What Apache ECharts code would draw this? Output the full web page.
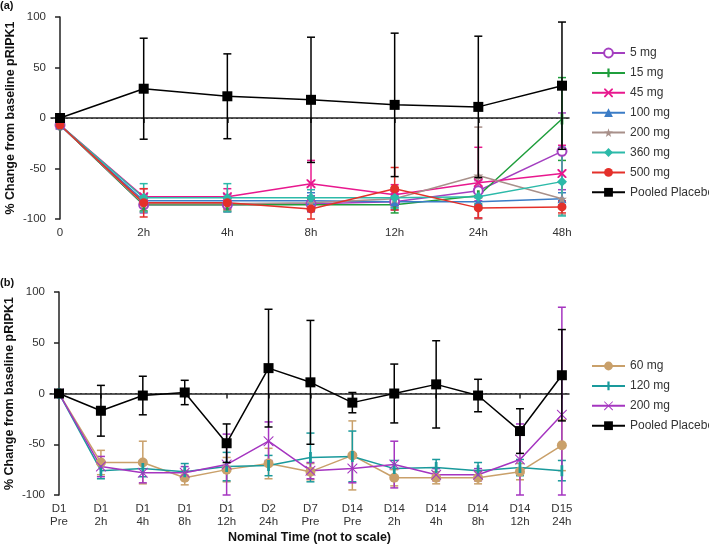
<!DOCTYPE html>
<html>
<head>
<meta charset="utf-8">
<script src="https://cdn.jsdelivr.net/npm/echarts@6/dist/echarts.min.js"></script>
<style>
  html, body { margin: 0; padding: 0; background: #fff; }
  #chart { width: 709px; height: 544px; }
</style>
</head>
<body>
<div id="chart"></div>
<script>
// panel (a) - single dose
var catsA = ['0', '2h', '4h', '8h', '12h', '24h', '48h']
var placeboA = [0, 29, 21.5, 18, 13, 11, 32]
var placeboAsd = [0, 50, 42, 62, 71, 70, 63]
var mg5 = [-7, -86, -86, -85, -83, -72, -33]
var mg5sd = [2, 8, 7, 8, 8, 10, 38]
var mg15 = [-7, -86, -86, -86, -86, -77, -1]
var mg15sd = [2, 6, 6, 6, 8, 8, 41]
var mg45 = [-7, -78, -78, -65, -76, -64, -55]
var mg45sd = [2, 8, 8, 23, 10, 35, 28]
var mg100 = [-7, -82, -82, -82, -83, -83, -80]
var mg100sd = [2, 6, 6, 8, 6, 6, 6]
var mg200 = [-7, -85, -85, -84, -80, -57, -80]
var mg200sd = [2, 8, 6, 6, 8, 48, 16]
var mg360 = [-7, -79, -79, -79, -79, -78, -63]
var mg360sd = [2, 14, 14, 8, 10, 8, 34]
var mg500 = [-7, -84, -84, -90, -70, -89, -88]
var mg500sd = [2, 14, 6, 10, 21, 10, 6]

// panel (b) - multiple dose
var catsB = ['D1\nPre', 'D1\n2h', 'D1\n4h', 'D1\n8h', 'D1\n12h', 'D2\n24h', 'D7\nPre',
  'D14\nPre', 'D14\n2h', 'D14\n4h', 'D14\n8h', 'D14\n12h', 'D15\n24h']
var placeboB = [0, -17, -2, 1, -49, 25, 11, -9, 0, 9, -2, -37, 18]
var placeboBsd = [0, 25, 19, 12, 19, 58, 61, 10, 29, 43, 16, 22, 45]
var mg60 = [0, -68, -68, -83, -75, -69, -77, -61, -83, -83, -83, -77, -51]
var mg60sd = [0, 12, 21, 7, 12, 15, 8, 34, 8, 6, 6, 8, 25]
var mg120 = [0, -76, -74, -77, -72, -71, -63, -62, -74, -73, -76, -73, -76]
var mg120sd = [0, 8, 8, 8, 14, 10, 24, 25, 8, 8, 8, 8, 10]
var mg200b = [0, -72, -78, -78, -70, -47, -76, -74, -70, -80, -80, -65, -21]
var mg200bsd = [0, 10, 10, 6, 30, 19, 8, 14, 23, 6, 6, 35, 106]

var FONT = 'Liberation Sans, Arial, sans-serif'
var STAR = 'path://M50,0 L61,35 L98,35 L68,57 L79,91 L50,70 L21,91 L32,57 L2,35 L39,35 Z'
var CROSS = 'path://M0,0 L3,0 L10,7 L17,0 L20,0 L20,3 L13,10 L20,17 L20,20 L17,20 L10,13 L3,20 L0,20 L0,17 L7,10 L0,3 Z'
var THINX = 'path://M0,0 L1.5,0 L10,8.5 L18.5,0 L20,0 L20,1.5 L11.5,10 L20,18.5 L20,20 L18.5,20 L10,11.5 L1.5,20 L0,20 L0,18.5 L8.5,10 L0,1.5 Z'
// 竖条, 角上的小三角只是为了让包围盒是正方形
var VBAR = 'path://M0,0 L0.01,0 L0,0.01 Z M12,12 L11.99,12 L12,11.99 Z M4.5,0 L7.5,0 L7.5,12 L4.5,12 Z'

var series = []

// 一条折线 + 误差线
function addGroup(name, vals, sd, color, symbol, size, idx, z) {
  series.push({
    name: name,
    type: 'line',
    xAxisIndex: idx,
    yAxisIndex: idx,
    data: vals.map(function(v, i) { return [i, v] }),
    symbol: symbol,
    symbolSize: size,
    showAllSymbol: true,
    color: color,
    lineStyle: { width: 1.5, color: color },
    itemStyle: { color: color, borderColor: color, borderWidth: symbol === 'emptyCircle' ? 1.6 : 0 },
    z: z,
    animation: false
  })
  series.push({
    type: 'custom',
    xAxisIndex: idx,
    yAxisIndex: idx,
    z: z,
    itemStyle: { color: color },
    data: vals.map(function(v, i) { return [i, Math.max(v - sd[i], -100), v + sd[i], sd[i]] }),
    renderItem: function(params, api) {
      if (api.value(3) <= 0) return
      var x = api.value(0)
      var lo = api.coord([x, api.value(1)])
      var hi = api.coord([x, api.value(2)])
      var w = 4
      var st = { stroke: color, lineWidth: 1.5 }
      return {
        type: 'group',
        children: [
          { type: 'line', shape: { x1: hi[0], y1: hi[1], x2: lo[0], y2: lo[1] }, style: st },
          { type: 'line', shape: { x1: hi[0] - w, y1: hi[1], x2: hi[0] + w, y2: hi[1] }, style: st },
          { type: 'line', shape: { x1: lo[0] - w, y1: lo[1], x2: lo[0] + w, y2: lo[1] }, style: st }
        ]
      }
    },
    animation: false
  })
}

addGroup('5 mg', mg5, mg5sd, '#a43fc0', 'emptyCircle', 9, 0, 3)
addGroup('15 mg', mg15, mg15sd, '#1f9e3c', VBAR, 11, 0, 3)
addGroup('45 mg', mg45, mg45sd, '#e8188e', CROSS, 9, 0, 3)
addGroup('100 mg', mg100, mg100sd, '#3b7cc6', 'triangle', 9, 0, 3)
addGroup('200 mg', mg200, mg200sd, '#a8908a', STAR, 10, 0, 3)
addGroup('360 mg', mg360, mg360sd, '#2cbaa9', 'diamond', 10, 0, 3)
addGroup('500 mg', mg500, mg500sd, '#e4302a', 'circle', 9, 0, 3)
addGroup('Pooled Placebo', placeboA, placeboAsd, '#000', 'rect', 10, 0, 5)

addGroup('60 mg', mg60, mg60sd, '#c9a06a', 'circle', 10, 1, 3)
addGroup('120 mg', mg120, mg120sd, '#1a9a9c', VBAR, 11, 1, 3)
addGroup('200 mg ', mg200b, mg200bsd, '#a535c0', THINX, 10, 1, 3)
addGroup('Pooled Placebo ', placeboB, placeboBsd, '#000', 'rect', 10, 1, 5)

// 零线
function zeroLine(idx) {
  series.push({
    type: 'line',
    xAxisIndex: idx,
    yAxisIndex: idx,
    data: [],
    silent: true,
    markLine: {
      symbol: 'none',
      silent: true,
      label: { show: false },
      lineStyle: { color: '#333', type: [2, 3], width: 1.2 },
      data: [{ yAxis: 0 }]
    },
    z: 1
  })
}
zeroLine(0)
zeroLine(1)

function yAxis(idx) {
  return {
    gridIndex: idx,
    type: 'value',
    min: -100,
    max: 100,
    interval: 50,
    name: '% Change from baseline pRIPK1',
    nameLocation: 'middle',
    nameGap: 34,
    nameMoveOverlap: false,
    nameTextStyle: { fontFamily: FONT, fontSize: 12.5, fontWeight: 'bold', color: '#111' },
    axisLine: { show: true, lineStyle: { color: '#222', width: 1.5 } },
    axisTick: { show: true, length: 5, lineStyle: { color: '#222', width: 1.5 } },
    axisLabel: { fontFamily: FONT, fontSize: 11.5, color: '#333', margin: 5 },
    splitLine: { show: false }
  }
}

function xAxis(idx, cats, min, max) {
  var ticks = cats.map(function(c, i) { return i })
  return {
    gridIndex: idx,
    type: 'value',
    min: min,
    max: max,
    axisLine: { show: true, lineStyle: { color: '#222', width: 1.5 } },
    axisTick: { show: true, length: 5, customValues: ticks, lineStyle: { color: '#222', width: 1.5 } },
    axisLabel: {
      customValues: ticks,
      fontFamily: FONT,
      fontSize: 11.5,
      color: '#333',
      lineHeight: 13,
      margin: 7,
      formatter: function(v) { return cats[Math.round(v)] }
    },
    splitLine: { show: false }
  }
}

var xb = xAxis(1, catsB, -0.215, 12.17)
xb.name = 'Nominal Time (not to scale)'
xb.nameLocation = 'middle'
xb.nameGap = 36
xb.nameMoveOverlap = false
xb.nameTextStyle = { fontFamily: FONT, fontSize: 12.5, fontWeight: 'bold', color: '#111' }

var option = {
  backgroundColor: '#fff',
  animation: false,
  title: [
    { text: '(a)', left: 0, top: 0, padding: 0, textStyle: { fontFamily: FONT, fontSize: 11, fontWeight: 'bold', color: '#111' } },
    { text: '(b)', left: 0, top: 277, padding: 0, textStyle: { fontFamily: FONT, fontSize: 11, fontWeight: 'bold', color: '#111' } }
  ],
  grid: [
    { left: 51, top: 17, width: 518, height: 202, outerBoundsMode: 'none', containLabel: false },
    { left: 50, top: 292, width: 519, height: 203, outerBoundsMode: 'none', containLabel: false }
  ],
  xAxis: [xAxis(0, catsA, -0.108, 6.084), xb],
  yAxis: [yAxis(0), yAxis(1)],
  legend: [
    {
      data: ['5 mg', '15 mg', '45 mg', '100 mg', '200 mg', '360 mg', '500 mg', 'Pooled Placebo'],
      orient: 'vertical',
      left: 586,
      top: 42,
      itemWidth: 33,
      itemHeight: 11,
      itemGap: 7.9,
      textStyle: { fontFamily: FONT, fontSize: 12, color: '#333' },
      selectedMode: false
    },
    {
      data: ['60 mg', '120 mg', '200 mg ', 'Pooled Placebo '],
      orient: 'vertical',
      left: 586,
      top: 355,
      itemWidth: 33,
      itemHeight: 11,
      itemGap: 7.9,
      textStyle: { fontFamily: FONT, fontSize: 12, color: '#333' },
      selectedMode: false
    }
  ],
  series: series
}

var chart = echarts.init(document.getElementById('chart'), null, { renderer: 'canvas' })
chart.setOption(option)
</script>
</body>
</html>
